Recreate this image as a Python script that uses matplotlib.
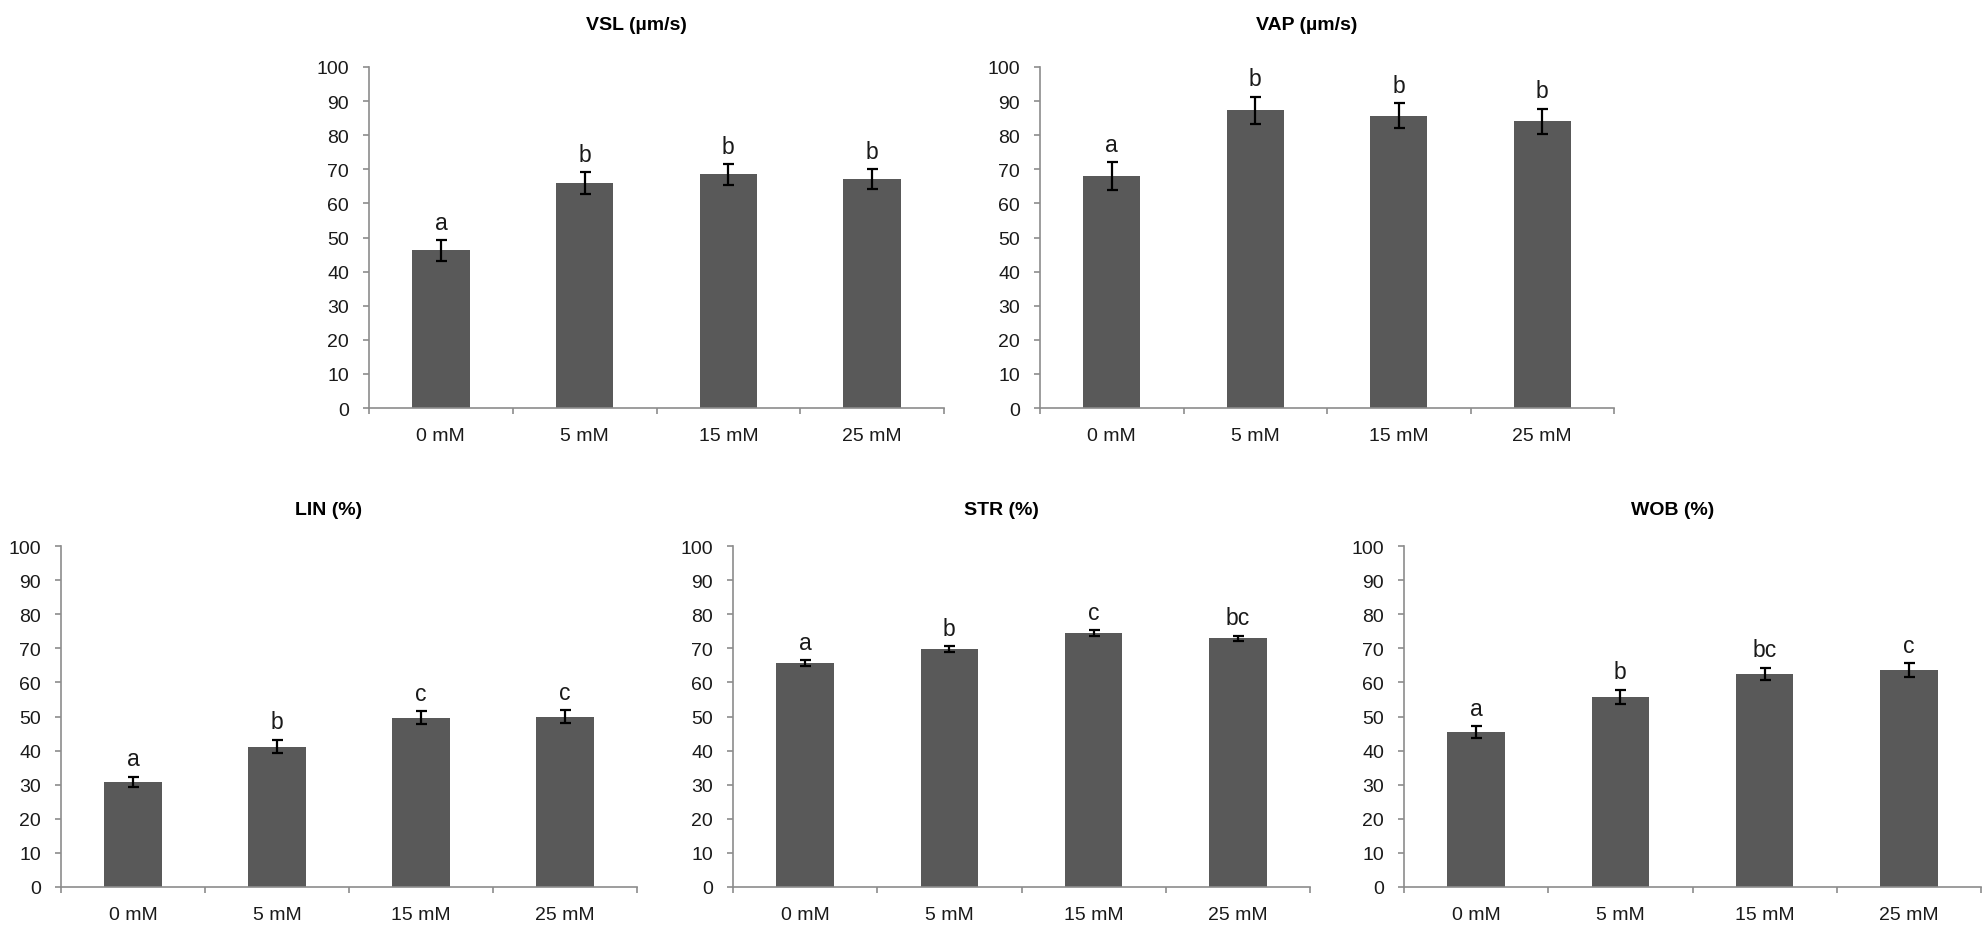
import matplotlib
matplotlib.use("Agg")
import matplotlib.pyplot as plt
import numpy as np

plt.rcParams['font.family'] = ['Liberation Sans', 'DejaVu Sans']

categories = ['0 mM', '5 mM', '15 mM', '25 mM']

vsl_mean = [46.2, 66.0, 68.5, 67.1]
vsl_err = [3.0, 3.2, 3.0, 2.9]
vsl_letters = ['a', 'b', 'b', 'b']

vap_mean = [68.0, 87.3, 85.7, 84.1]
vap_err = [4.0, 4.0, 3.7, 3.7]
vap_letters = ['a', 'b', 'b', 'b']

lin_mean = [30.8, 41.2, 49.6, 50.0]
lin_err = [1.6, 2.0, 1.9, 1.8]
lin_letters = ['a', 'b', 'c', 'c']

str_mean = [65.7, 69.8, 74.5, 72.9]
str_err = [0.8, 0.85, 0.8, 0.8]
str_letters = ['a', 'b', 'c', 'bc']

wob_mean = [45.4, 55.8, 62.5, 63.6]
wob_err = [1.8, 2.1, 1.8, 2.1]
wob_letters = ['a', 'b', 'bc', 'c']

titles = ['VSL (µm/s)', 'VAP (µm/s)', 'LIN (%)', 'STR (%)', 'WOB (%)']
y_ticks = [0, 10, 20, 30, 40, 50, 60, 70, 80, 90, 100]

W, H = 1988, 929
fig = plt.figure(figsize=(W / 100, H / 100), dpi=100)
fig.patch.set_facecolor('white')

# pixel boxes: (x_left, x_right, y_top, y_bottom)
boxes = [
    (369, 944, 68, 409),
    (1040, 1614, 68, 409),
    (61, 637, 547, 888),
    (733, 1310, 547, 888),
    (1404, 1981, 547, 888),
]
panels = [
    (vsl_mean, vsl_err, vsl_letters),
    (vap_mean, vap_err, vap_letters),
    (lin_mean, lin_err, lin_letters),
    (str_mean, str_err, str_letters),
    (wob_mean, wob_err, wob_letters),
]

bar_color = '#595959'
axis_color = '#8c8c8c'
px = 72 / 100  # points per pixel

for (x0, x1, yt, yb), (mean, err, letters), title in zip(boxes, panels, titles):
    ax = fig.add_axes([x0 / W, 1 - yb / H, (x1 - x0) / W, (yb - yt) / H])
    x = np.arange(len(categories))
    ax.bar(x, mean, width=0.4, color=bar_color, zorder=2)
    ax.errorbar(x, mean, yerr=err, fmt='none', ecolor='black',
                elinewidth=1.6, capsize=5.5 * px, capthick=1.6, zorder=3)
    for xi, m, e, l in zip(x, mean, err, letters):
        ax.text(xi, m + e + 3.3, l, ha='center', va='baseline', fontsize=16.5, color='#1a1a1a')
    ax.set_xlim(-0.5, len(categories) - 0.5)
    ax.set_ylim(0, 100)
    ax.set_yticks(y_ticks)
    ax.set_yticklabels([str(v) for v in y_ticks])
    ax.set_xticks(x)
    ax.set_xticklabels(categories)
    ax.set_xticks(np.arange(len(categories) + 1) - 0.5, minor=True)
    ax.tick_params(axis='x', which='major', length=0, pad=14, labelsize=14, colors='#1a1a1a')
    ax.tick_params(axis='x', which='minor', length=6 * px, width=1.2, color=axis_color, direction='out')
    ax.tick_params(axis='y', which='major', length=6 * px, width=1.2, color=axis_color,
                   pad=14 * px, labelsize=14, labelcolor='#1a1a1a', direction='out')
    for s in ['top', 'right']:
        ax.spines[s].set_visible(False)
    for s in ['left', 'bottom']:
        ax.spines[s].set_color(axis_color)
        ax.spines[s].set_linewidth(1.2)
    ax.set_facecolor('none')
    cx = (x0 + x1) / 2 - 20
    cy = 25 if yt < 300 else 511
    fig.text(cx / W, 1 - cy / H, title, ha='center', va='center', fontsize=14,
             fontweight='bold', color='black')

fig.savefig('out.png', dpi=100, facecolor='white')
